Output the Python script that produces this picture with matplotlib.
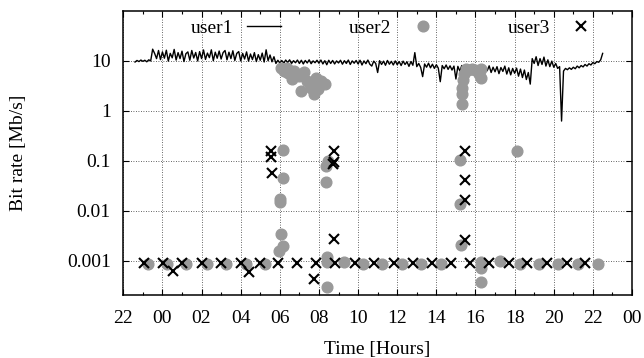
import numpy as np
import matplotlib
matplotlib.use("Agg")
import matplotlib.pyplot as plt

plt.rcParams['font.family'] = ['Liberation Serif', 'DejaVu Serif']
plt.rcParams['font.size'] = 14

# ---------------- user1: continuous bit rate, sampled every 0.1 h ----------------
user1_t0 = -1.4
user1_step = 0.1
user1_rate = [
    9.4, 10.1, 9.6, 10.3,                                       # -1.4 .. -1.1
    9.7, 10.2, 9.5, 10.4, 9.9, 17.0, 14.0, 11.0, 16.0, 10.5,    # -1.0 .. -0.1
    15.0, 11.2, 16.2, 9.8, 14.0, 11.4, 16.8, 10.3, 14.5, 11.0,  # 0
    15.5, 9.6, 13.8, 15.0, 10.2, 16.0, 11.3, 14.6, 9.9, 15.2,   # 1
    11.0, 16.4, 10.6, 14.2, 11.5, 16.5, 10.0, 14.8, 11.2, 15.6, # 2
    10.8, 14.5, 16.0, 10.4, 14.8, 11.0, 15.8, 10.1, 14.0, 15.2, # 3
    9.9, 14.0, 10.8, 15.0, 9.8, 13.6, 10.5, 14.5, 9.6, 13.2,    # 4
    10.2, 14.2, 9.4, 16.5, 10.0, 13.0, 9.5, 12.0, 8.8, 10.2,    # 5
    9.0, 10.1, 8.9, 10.3, 9.2, 10.4, 8.8, 10.0, 9.1, 10.3,      # 6
    8.8, 10.2, 8.6, 10.1, 9.0, 10.4, 8.7, 9.9, 9.1, 10.2,       # 7
    8.9, 10.3, 8.6, 10.0, 8.3, 10.2, 8.8, 10.1, 8.6, 9.9,       # 8
    9.0, 10.2, 8.5, 10.0, 8.8, 10.3, 8.4, 9.9, 8.9, 10.1,       # 9
    8.6, 10.2, 8.2, 9.9, 8.7, 10.3, 8.5, 7.8, 9.8, 8.8,         # 10
    5.8, 10.0, 8.4, 9.8, 8.1, 10.1, 8.5, 9.7, 8.2, 9.9,         # 11
    8.3, 9.6, 8.0, 9.8, 8.4, 9.5, 7.7, 9.6, 8.1, 14.5,          # 12
    7.6, 8.8, 7.3, 4.8, 8.6, 7.4, 8.9, 7.2, 8.5, 7.0,           # 13
    8.3, 7.1, 3.8, 8.0, 6.9, 8.2, 6.7, 7.9, 6.5, 7.8,           # 14
    4.3, 7.7, 6.2, 8.0, 6.0, 7.8, 6.4, 7.6, 5.8, 7.5,           # 15
    6.2, 7.8, 5.9, 7.7, 5.6, 7.5, 6.3, 7.9, 5.8, 7.4,           # 16
    6.0, 7.6, 5.5, 7.3, 6.1, 7.8, 5.4, 7.2, 5.2, 7.0,           # 17
    5.6, 7.1, 4.9, 6.8, 4.6, 6.5, 4.2, 5.8, 3.4, 11.0,          # 18
    8.8, 12.0, 8.0, 11.0, 8.4, 11.8, 7.8, 10.4, 7.6, 9.8,       # 19
    7.4, 8.8, 7.0, 7.6, 0.62, 6.2, 7.0, 6.6, 7.2, 6.7,          # 20
    7.4, 6.9, 7.8, 7.2, 8.0, 7.5, 8.4, 7.8, 8.7, 8.2,           # 21
    9.2, 8.7, 9.6, 9.3, 10.4, 14.0,                             # 22.0 .. 22.5
]
user1_time = user1_t0 + user1_step * np.arange(len(user1_rate))

# ---------------- user2: sporadic samples (hours, Mb/s) ----------------
user2_time = [-0.76, 0.21, 1.23, 2.26, 3.24, 4.25, 5.24,
              5.98, 6.03, 6.03, 6.05, 6.14, 6.14, 6.15,
              6.05, 6.2, 6.35, 6.44, 6.61, 6.75, 6.97, 7.06, 7.24, 7.41,
              7.59, 7.77, 7.86, 7.95, 8.12, 8.3,
              8.35, 8.47, 8.36, 8.4, 8.42, 8.4,
              9.28, 10.26, 11.24, 12.25, 13.23, 14.26,
              15.21, 15.21, 15.24, 15.29, 15.29, 15.3, 15.35, 15.4, 15.5,
              15.6, 15.8, 16.0, 16.2, 16.3, 16.3,
              16.26, 16.26, 16.26, 17.25, 18.1, 18.26, 19.24, 20.21, 21.24, 22.26]
user2_rate = [0.00085, 0.00085, 0.00085, 0.00085, 0.00085, 0.00085, 0.00085,
              0.00153, 0.017, 0.0147, 0.0034, 0.164, 0.044, 0.002,
              7.0, 6.3, 7.0, 5.6, 4.3, 6.2, 5.0, 2.5, 6.0, 4.0,
              2.9, 2.15, 4.6, 2.7, 4.0, 3.4,
              0.079, 0.1, 0.038, 0.00117, 0.00095, 0.00029,
              0.00095, 0.00085, 0.00085, 0.00085, 0.00085, 0.00085,
              0.103, 0.0136, 0.0021, 1.34, 2.2, 2.8, 4.2, 5.5, 6.8,
              6.5, 6.8, 6.5, 5.5, 6.8, 4.5,
              0.00095, 0.0007, 0.00037, 0.00097, 0.158, 0.00085, 0.00085, 0.00085, 0.00085, 0.00085]

# ---------------- user3: sporadic samples (hours, Mb/s) ----------------
user3_time = [-0.94, 0.04, 0.53, 1.01, 2.03, 3.0, 4.0, 4.43, 4.98,
              5.55, 5.55, 5.6, 5.9, 6.88, 7.77, 7.86,
              8.76, 8.78, 8.74, 8.76, 8.84, 9.85, 10.83, 11.82, 12.8, 13.78, 14.74,
              15.46, 15.46, 15.46, 15.46, 15.73, 16.69, 17.69, 18.65, 19.68, 20.66, 21.6]
user3_rate = [0.0009, 0.0009, 0.00063, 0.0009, 0.0009, 0.0009, 0.0009, 0.0006, 0.0009,
              0.155, 0.12, 0.057, 0.0009, 0.0009, 0.00043, 0.0009,
              0.153, 0.092, 0.086, 0.0027, 0.0009, 0.0009, 0.0009, 0.0009, 0.0009, 0.0009, 0.0009,
              0.158, 0.041, 0.016, 0.0026, 0.0009, 0.0009, 0.0009, 0.0009, 0.0009, 0.0009, 0.0009]

# axis ticks
x_ticks = [-2, 0, 2, 4, 6, 8, 10, 12, 14, 16, 18, 20, 22, 24]
x_ticklabels = ["22", "00", "02", "04", "06", "08", "10", "12", "14", "16", "18", "20", "22", "00"]
y_ticks = [0.001, 0.01, 0.1, 1, 10]
y_ticklabels = ["0.001", "0.01", "0.1", "1", "10"]

fig = plt.figure(figsize=(6.44, 3.58), dpi=100)
ax = fig.add_axes([123.3 / 644, 1 - 294.5 / 358, (632 - 123.3) / 644, (294.5 - 10.7) / 358])

ax.plot(user1_time, user1_rate, color="black", lw=1.0, label="user1", zorder=2)
ax.plot(user2_time, user2_rate, ls="none", marker="o", ms=7.7, mfc="#999999", mec="#999999",
        label="user2", zorder=3)
ax.plot(user3_time, user3_rate, ls="none", marker="x", ms=7.5, mew=1.5, color="black",
        label="user3", zorder=4)

ax.set_yscale("log")
ax.set_xlim(-2, 24)
ax.set_ylim(2.1e-4, 100)

ax.set_xticks(x_ticks)
ax.set_xticklabels(x_ticklabels)
ax.set_xticks(np.arange(-1, 24, 2), minor=True)
ax.set_yticks(y_ticks)
ax.set_yticklabels(y_ticklabels)
ax.yaxis.set_minor_locator(matplotlib.ticker.NullLocator())

ax.tick_params(which="both", direction="in", top=True, right=True)
ax.tick_params(which="major", length=4.5, width=0.8)
ax.tick_params(which="minor", length=2.2, width=0.8)
ax.tick_params(axis="x", pad=11)
ax.tick_params(axis="y", pad=9)

ax.grid(True, which="major", color="#333333", lw=0.6, ls=(0, (1, 2)))
for s in ax.spines.values():
    s.set_linewidth(1.1)

ax.set_xlabel("Time [Hours]")
ax.set_ylabel("Bit rate [Mb/s]")
ax.xaxis.set_label_coords(0.5, -0.165)
ax.yaxis.set_label_coords(-0.19, 0.5)

ax.legend(loc="center", bbox_to_anchor=(0.533, 0.939), ncol=3, markerfirst=False, frameon=False,
          handlelength=1.75, handletextpad=0.72, columnspacing=3.5, borderaxespad=0, borderpad=0)

fig.savefig("out.png", dpi=100)
